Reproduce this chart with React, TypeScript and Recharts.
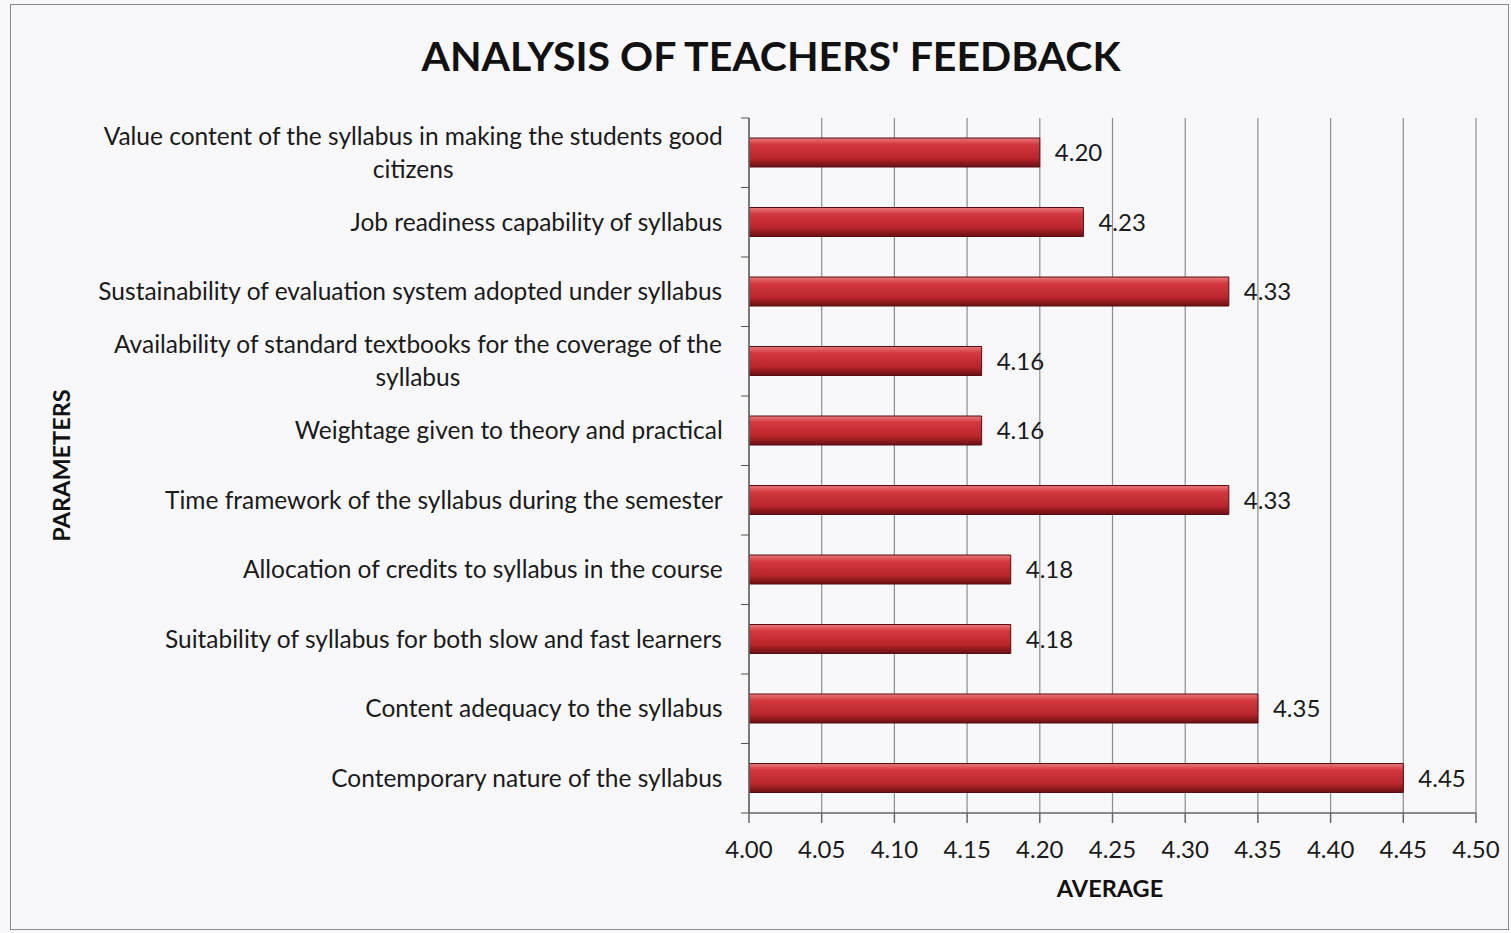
import { BarChart, Bar, XAxis, YAxis, CartesianGrid, LabelList, Label } from "recharts";

const categories = [
  "Value content of the syllabus in making the students good\ncitizens",
  "Job readiness capability of syllabus",
  "Sustainability of evaluation system adopted under syllabus",
  "Availability of standard textbooks for the coverage of the\nsyllabus",
  "Weightage given to theory and practical",
  "Time framework of the syllabus during the semester",
  "Allocation of credits to syllabus in the course",
  "Suitability of syllabus for both slow and fast learners",
  "Content adequacy to the syllabus",
  "Contemporary nature of the syllabus",
];
const averages = [4.2, 4.23, 4.33, 4.16, 4.16, 4.33, 4.18, 4.18, 4.35, 4.45];
const xTicks = [4.0, 4.05, 4.1, 4.15, 4.2, 4.25, 4.3, 4.35, 4.4, 4.45, 4.5];

const data = categories.map((name, i) => ({ name, value: averages[i] }));

const FONT = "Lato, 'Open Sans', sans-serif";
const W = 1511;
const H = 933;
const TOP = 118;
const BOTTOM = 120;
const PLOT_H = H - TOP - BOTTOM;
const band = PLOT_H / categories.length;
const LABEL_SIZE = 24.5;

let ctx: CanvasRenderingContext2D | null = null;
function measure(s: string, font: string) {
  if (!ctx) ctx = document.createElement("canvas").getContext("2d");
  if (!ctx) return s.length * 11;
  ctx.font = font;
  return ctx.measureText(s).width;
}

// category label: centred block whose right edge sits left of the axis,
// with the small tick marks on band boundaries like the original
function CatTick(props: any) {
  const { x, y, payload, index } = props;
  const lines: string[] = String(payload.value).split("\n");
  const font = `${LABEL_SIZE}px ${FONT}`;
  const w = Math.max(...lines.map((l) => measure(l, font)));
  const right = x - 18;
  const cx = right - w / 2;
  const lh = 33;
  const startY = y - ((lines.length - 1) * lh) / 2;
  return (
    <g>
      <line x1={x} x2={x + 8} y1={y - band / 2} y2={y - band / 2} stroke="#555" />
      {index === categories.length - 1 && (
        <line x1={x} x2={x + 8} y1={y + band / 2} y2={y + band / 2} stroke="#555" />
      )}
      <text x={cx} y={startY} textAnchor="middle" fontFamily={FONT} fontSize={LABEL_SIZE} fill="#1a1a1a">
        {lines.map((l, i) => (
          <tspan key={i} x={cx} y={startY + i * lh} dy="0.35em">
            {l}
          </tspan>
        ))}
      </text>
    </g>
  );
}

export default function App() {
  return (
    <div style={{ position: "absolute", left: 0, top: 0, width: W, height: H, background: "#f8f8fa" }}>
      <div
        style={{
          position: "absolute",
          left: 10,
          top: 4,
          width: 1497,
          height: 924,
          border: "1.5px solid #8a8a92",
        }}
      />
      <div
        style={{
          position: "absolute",
          left: 0,
          width: 1542,
          top: 31,
          textAlign: "center",
          fontFamily: FONT,
          fontWeight: 700,
          fontSize: 41,
          color: "#111",
        }}
      >
        ANALYSIS OF TEACHERS' FEEDBACK
      </div>
      <div style={{ position: "absolute", left: 0, top: 0 }}>
        <BarChart
          width={W}
          height={H}
          data={data}
          layout="vertical"
          margin={{ top: TOP, right: 35, left: 0, bottom: 0 }}
        >
          <defs>
            <linearGradient id="barGrad" x1="0" y1="0" x2="0" y2="1">
              <stop offset="0%" stopColor="#e87a7c" />
              <stop offset="22%" stopColor="#d3393e" />
              <stop offset="70%" stopColor="#b9262b" />
              <stop offset="100%" stopColor="#6a1013" />
            </linearGradient>
          </defs>
          <CartesianGrid horizontal={false} stroke="#8c8c94" strokeWidth={1.2} />
          <XAxis
            type="number"
            domain={[4, 4.5]}
            ticks={xTicks}
            allowDataOverflow
            height={BOTTOM}
            tickSize={10}
            tickMargin={18}
            tickFormatter={(v: number) => v.toFixed(2)}
            tick={{ fontFamily: FONT, fontSize: 24, fill: "#1a1a1a" }}
            stroke="#666"
            strokeWidth={1.5}
          >
            <Label
              content={() => (
                <text
                  x={1110}
                  y={889}
                  textAnchor="middle"
                  dy="0.35em"
                  fontFamily={FONT}
                  fontWeight={700}
                  fontSize={23.5}
                  fill="#111"
                >
                  AVERAGE
                </text>
              )}
            />
          </XAxis>
          <YAxis
            type="category"
            dataKey="name"
            width={749}
            tickLine={false}
            interval={0}
            tick={<CatTick />}
            stroke="#666"
            strokeWidth={1.5}
          >
            <Label
              content={(p: any) => {
                const vb = p.viewBox || { y: TOP, height: PLOT_H };
                const cy = vb.y + vb.height / 2;
                return (
                  <text
                    x={62}
                    y={cy}
                    transform={`rotate(-90, 62, ${cy})`}
                    textAnchor="middle"
                    dy="0.35em"
                    fontFamily={FONT}
                    fontWeight={700}
                    fontSize={23.5}
                    fill="#111"
                  >
                    PARAMETERS
                  </text>
                );
              }}
            />
          </YAxis>
          <Bar
            dataKey="value"
            barSize={29}
            fill="url(#barGrad)"
            stroke="#5a0d10"
            strokeWidth={1}
            isAnimationActive={false}
          >
            <LabelList
              dataKey="value"
              position="right"
              offset={15}
              formatter={(v: any) => Number(v).toFixed(2)}
              style={{ fontFamily: FONT, fontSize: 24, fill: "#1a1a1a" }}
            />
          </Bar>
        </BarChart>
      </div>
    </div>
  );
}
